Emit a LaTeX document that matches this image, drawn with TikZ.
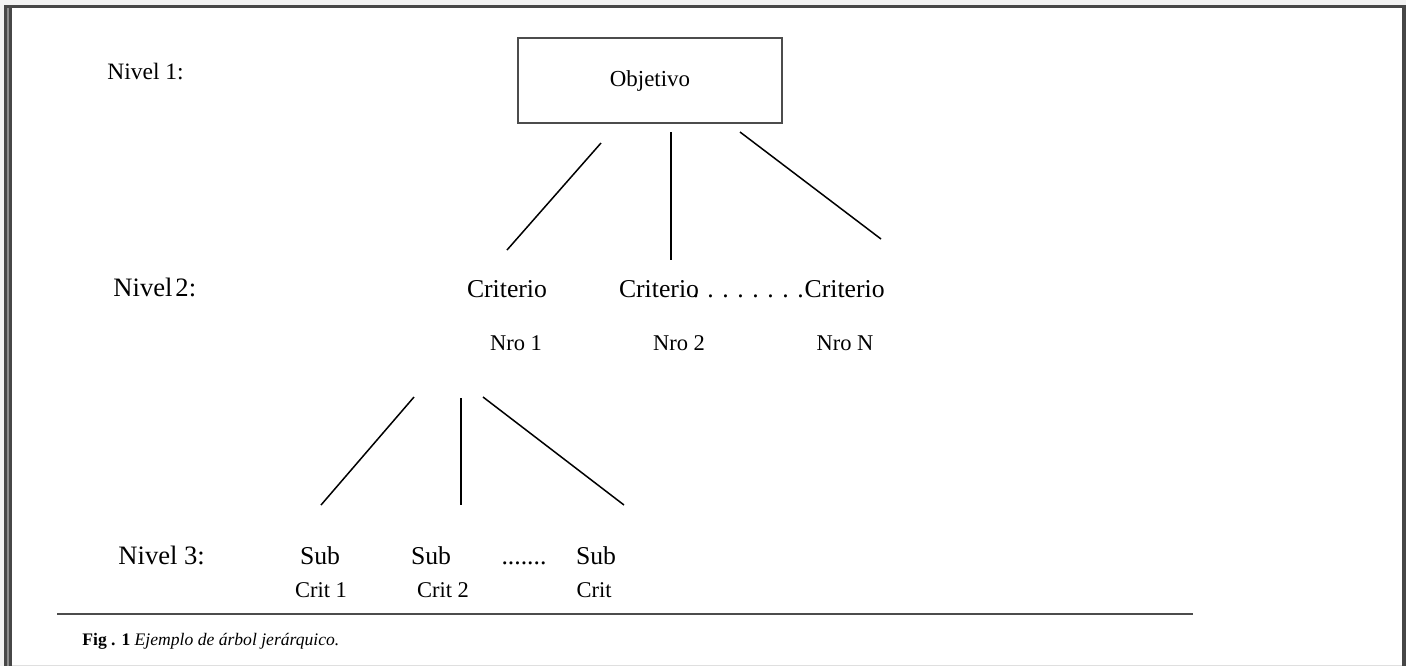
\documentclass[tikz,border=0pt]{standalone}
\usepackage{fontspec}
\setmainfont{Liberation Serif}
\begin{document}
\begin{tikzpicture}[x=0.5pt,y=-0.5pt,
  lbl/.style={inner sep=0pt, anchor=base},
  fs/.style={font=\fontsize{#1}{#1}\selectfont},
  link/.style={line width=0.75pt, black},
  frame/.style={black!72},
  goalbox/.style={draw=black!70, line width=0.6pt, minimum width=132pt,
    minimum height=42.5pt, inner sep=0pt, fs=11.45}]
\useasboundingbox (0,0) rectangle (1406,666);
% page background and frame
\fill[gray!10] (0,0) rectangle (1406,666);
\fill[white] (5,5) rectangle (1404,665);
\fill[frame] (5,5) rectangle (1406,7.5);
\fill[frame] (4,5) rectangle (12,666);
\fill[black!45] (7,8) rectangle (9,666);
\fill[frame] (1402,5) rectangle (1406,666);
\draw[gray!25, line width=0.5pt] (12,665.5) -- (1402,665.5);

% level labels
\node[lbl, fs=11.75, anchor=base west] (lv1) at (107,79) {Nivel 1:};
\node[lbl, fs=13.3, anchor=base west] (lv2) at (113,296) {Nivel\hspace{1.5pt}2:};
\node[lbl, fs=13.3, anchor=base west] (lv3) at (118,564) {Nivel 3:};

% level 1
\node[goalbox] (obj) at (650,80.5) {Objetivo};

% level 2
\node[lbl, fs=12.85] (c1) at (507,297) {Criterio};
\node[lbl, fs=12.85] (c2) at (659,297) {Criterio};
\node[lbl, fs=12.85, anchor=base east] (c3) at (885,297) {Criterio};
\node[lbl, fs=12.85, anchor=base east] (cdots) at (c3.base west) {. . . . . . . .};
\node[lbl, fs=11.25] (n1) at (516,350) {Nro 1};
\node[lbl, fs=11.25] (n2) at (679,350) {Nro 2};
\node[lbl, fs=11.25] (nN) at (845,350) {Nro N};

% level 3
\node[lbl, fs=12.85] (s1) at (320,564) {Sub};
\node[lbl, fs=12.85] (s2) at (431,564) {Sub};
\node[lbl, fs=12.85] (sdots) at (524,564) {.......};
\node[lbl, fs=12.85] (s3) at (596,564) {Sub};
\node[lbl, fs=11.25] (t1) at (321,597) {Crit 1};
\node[lbl, fs=11.25] (t2) at (443,597) {Crit 2};
\node[lbl, fs=11.25] (t3) at (594,597) {Crit};

% branch end points
\coordinate (o1) at (601,143);
\coordinate (o2) at (671,132);
\coordinate (o3) at (740,132);
\coordinate (e1) at (507,250);
\coordinate (e2) at (671,260);
\coordinate (e3) at (881,239);
\coordinate (p1) at (414,397);
\coordinate (p2) at (461,398);
\coordinate (p3) at (483,397);
\coordinate (q1) at (321,505);
\coordinate (q2) at (461,505);
\coordinate (q3) at (624,505);

\draw[link] (o1) -- (e1);
\draw[link] (o2) -- (e2);
\draw[link] (o3) -- (e3);
\draw[link] (p1) -- (q1);
\draw[link] (p2) -- (q2);
\draw[link] (p3) -- (q3);

% caption rule and caption
\coordinate (r1) at (57,614);
\coordinate (r2) at (1193,614);
\draw[black!70, line width=0.8pt] (r1) -- (r2);
\node[lbl, fs=8.8, anchor=base west] (cap) at (82,645)
  {\textbf{Fig . 1} \textit{Ejemplo de árbol jerárquico.}};
\end{tikzpicture}
\end{document}
